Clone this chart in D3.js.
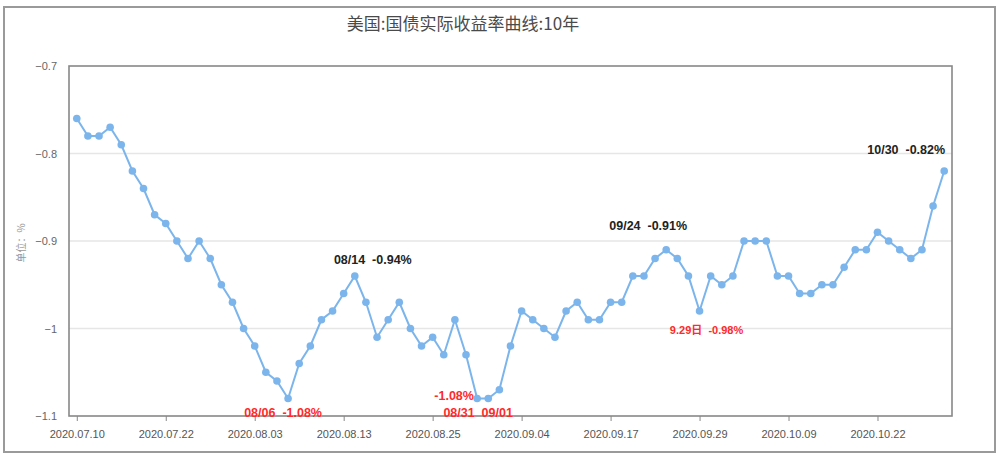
<!DOCTYPE html>
<html><head><meta charset="utf-8">
<script src="https://cdn.jsdelivr.net/npm/d3@7/dist/d3.min.js"></script>
<style>body{margin:0;background:#fff}svg{display:block}</style>
</head><body><svg id="c" width="1000" height="460"></svg>
<script>
const dates = ["07.10","07.13","07.14","07.15","07.16","07.17","07.20","07.21","07.22","07.23","07.24","07.27","07.28","07.29","07.30","07.31",
"08.03","08.04","08.05","08.06","08.07","08.10","08.11","08.12","08.13","08.14","08.17","08.18","08.19","08.20","08.21","08.24","08.25","08.26","08.27","08.28","08.31",
"09.01","09.02","09.03","09.04","09.08","09.09","09.10","09.11","09.14","09.15","09.16","09.17","09.18","09.21","09.22","09.23","09.24","09.25","09.28","09.29","09.30",
"10.01","10.02","10.05","10.06","10.07","10.08","10.09","10.13","10.14","10.15","10.16","10.19","10.20","10.21","10.22","10.23","10.26","10.27","10.28","10.29","10.30"];
const values = [-0.76,-0.78,-0.78,-0.77,-0.79,-0.82,-0.84,-0.87,-0.88,-0.90,-0.92,-0.90,-0.92,-0.95,-0.97,-1.00,
-1.02,-1.05,-1.06,-1.08,-1.04,-1.02,-0.99,-0.98,-0.96,-0.94,-0.97,-1.01,-0.99,-0.97,-1.00,-1.02,-1.01,-1.03,-0.99,-1.03,-1.08,
-1.08,-1.07,-1.02,-0.98,-0.99,-1.00,-1.01,-0.98,-0.97,-0.99,-0.99,-0.97,-0.97,-0.94,-0.94,-0.92,-0.91,-0.92,-0.94,-0.98,-0.94,
-0.95,-0.94,-0.90,-0.90,-0.90,-0.94,-0.94,-0.96,-0.96,-0.95,-0.95,-0.93,-0.91,-0.91,-0.89,-0.90,-0.91,-0.92,-0.91,-0.86,-0.82];
const tickDates = ["07.10","07.22","08.03","08.13","08.25","09.04","09.17","09.29","10.09","10.22"];
const yTicks = [-0.7,-0.8,-0.9,-1.0,-1.1];
const title = "美国:国债实际收益率曲线:10年";
const yUnit = "单位：%";
const notes = [
  {date:"08.14", text:"08/14  -0.94%", color:"#222"},
  {date:"08.06", text:"08/06  -1.08%", color:"#ff2a2a"},
  {date:"08.31", text:"-1.08%", color:"#ff2a2a"},
  {date:"08.31", text:"08/31  09/01", color:"#ff2a2a"},
  {date:"09.24", text:"09/24  -0.91%", color:"#222"},
  {date:"09.29", text:"9.29日  -0.98%", color:"#ff2a2a"},
  {date:"10.30", text:"10/30  -0.82%", color:"#222"}
];
// layout offsets (not data): label centre relative to its point
const noteLayout = [
  {dx:18, dy:-16, size:12.5},
  {dx:-5, dy:14, size:12.5},
  {dx:-23, dy:-3, size:12.5},
  {dx:1, dy:14, size:12.5},
  {dx:-18, dy:-24, size:12.5},
  {dx:7, dy:19, size:11},
  {dx:-38, dy:-21, size:12.5}
];

const svg = d3.select("#c");
const L=69, R=952, T=66, B=416;
const x = d3.scalePoint().domain(dates).range([L,R]).padding(0.7);
const y = d3.scaleLinear().domain([-1.1,-0.7]).range([B,T]);

// outer frame
svg.append("rect").attr("x",4).attr("y",7).attr("width",991).attr("height",445)
  .attr("fill","none").attr("stroke","#9a9a9a").attr("stroke-width",2);

// title
svg.append("text").attr("x",463).attr("y",30).attr("text-anchor","middle")
  .attr("font-family","'Noto Sans CJK SC',sans-serif").attr("font-size",17)
  .attr("fill","#4a4a4a").text(title);

// grid
svg.append("g").selectAll("line").data(yTicks.filter(d=>d>-1.1 && d<-0.7)).join("line")
  .attr("x1",L).attr("x2",R).attr("y1",d=>y(d)).attr("y2",d=>y(d))
  .attr("stroke","#e6e6e6").attr("stroke-width",1.5);

// y axis labels
const yAxis = d3.axisLeft(y).tickValues(yTicks).tickSize(0).tickPadding(12)
  .tickFormat(d=>d3.format("")(+d.toFixed(1)));
const gy = svg.append("g").attr("transform",`translate(${L},0)`).call(yAxis);
gy.select(".domain").remove();
gy.selectAll("text").attr("font-family","'Liberation Sans',Arial,sans-serif").attr("font-size",11).attr("fill","#666");

svg.append("text").attr("transform","translate(25,243) rotate(-90)").attr("text-anchor","middle")
  .attr("font-family","'Noto Sans CJK SC',sans-serif").attr("font-size",10).attr("fill","#999").text(yUnit);

// x axis
const xAxis = d3.axisBottom(x).tickValues(tickDates).tickSize(5).tickPadding(9).tickFormat(d=>"2020."+d);
const gx = svg.append("g").attr("transform",`translate(0,${B})`).call(xAxis);
gx.select(".domain").remove();
gx.selectAll(".tick line").attr("stroke","#888");
gx.selectAll("text").attr("font-family","'Liberation Sans',Arial,sans-serif").attr("font-size",11).attr("fill","#555");

// plot frame
svg.append("rect").attr("x",L).attr("y",T).attr("width",R-L).attr("height",B-T)
  .attr("fill","none").attr("stroke","#888").attr("stroke-width",1.6);

// line
const data = dates.map((d,i)=>({d, v:values[i]}));
svg.append("path").datum(data)
  .attr("d", d3.line().x(p=>x(p.d)).y(p=>y(p.v)))
  .attr("fill","none").attr("stroke","#7cb5ec").attr("stroke-width",2);
svg.append("g").selectAll("circle").data(data).join("circle")
  .attr("cx",p=>x(p.d)).attr("cy",p=>y(p.v)).attr("r",3.8).attr("fill","#7cb5ec");

// annotations
svg.append("g").selectAll("text").data(notes).join("text")
  .attr("x",(n,i)=>x(n.date)+noteLayout[i].dx)
  .attr("y",(n,i)=>y(values[dates.indexOf(n.date)])+noteLayout[i].dy)
  .attr("dy","0.35em")
  .attr("text-anchor","middle").attr("font-weight","bold")
  .attr("font-family","'Liberation Sans',Arial,'Noto Sans CJK SC',sans-serif")
  .attr("font-size",(n,i)=>noteLayout[i].size).attr("fill",n=>n.color)
  .style("white-space","pre").text(n=>n.text);
</script></body></html>
